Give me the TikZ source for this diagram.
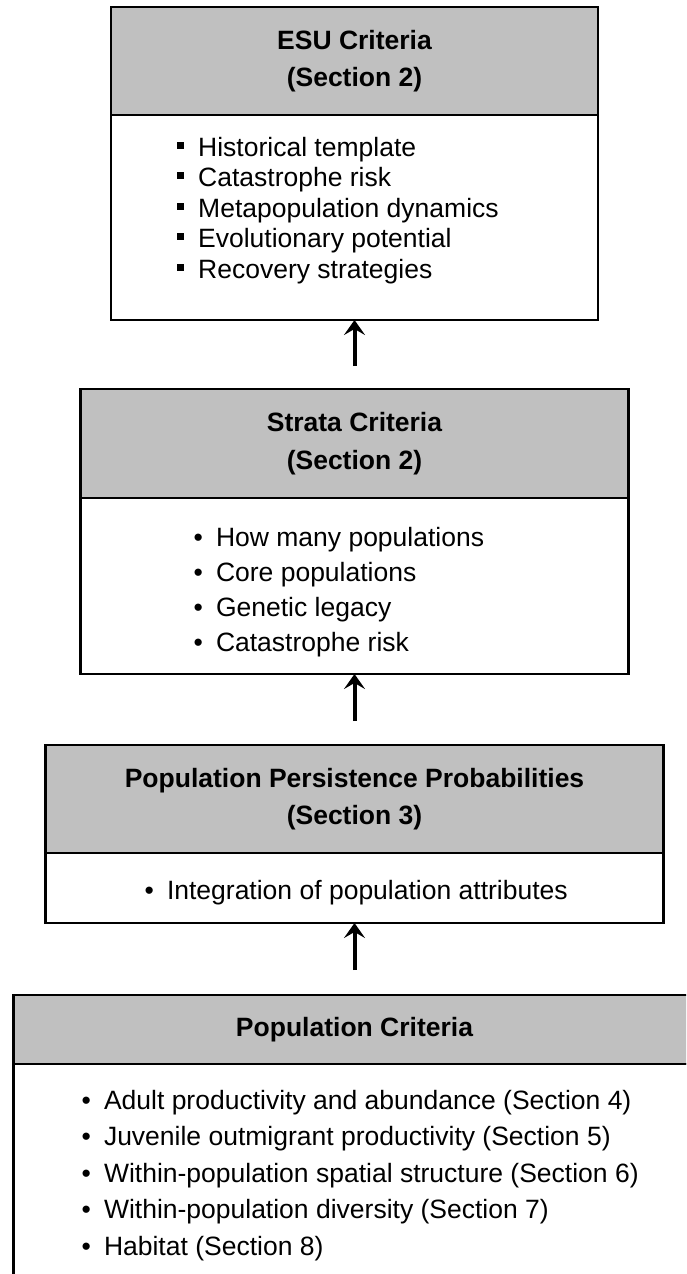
\documentclass[tikz,border=0pt]{standalone}
\usepackage{fontspec}
\setmainfont{Liberation Sans}
\usetikzlibrary{positioning,arrows.meta}
\definecolor{hdrgray}{RGB}{192,192,192}
\newcommand{\sqbul}{\makebox[0.8em][l]{\rule[0.28em]{0.27em}{0.27em}}}
\newcommand{\rndbul}{\makebox[0.85em][l]{\textbullet}}

\begin{document}
\begin{tikzpicture}
[x=1pt,y=1pt,%
  every node/.style={inner sep=0pt,outer sep=0pt},%
  box/.style={draw,line width=2.5pt,rectangle},%
  hdr/.style={box,fill=hdrgray,font=\bfseries,align=center},%
  bdy/.style={box,fill=white},%
  items/.style={align=left,anchor=north west},%
  uparrow/.style={line width=4pt,-{Stealth[length=15pt,width=21pt,inset=6pt]}}]
\useasboundingbox (0,0) rectangle (686,-1274);
\clip (0,0) rectangle (686,-1274);
\fontsize{26.5}{30.5}\selectfont
\node[hdr,anchor=north,minimum width=487pt,minimum height=108pt] (esuhead)
  at (354.5,-7) {ESU Criteria\\[6.5pt](Section 2)};
\node[bdy,below=0pt of esuhead,minimum width=487pt,minimum height=205pt] (esubody) {};
\node[items] (esulist) at ([xshift=66pt,yshift=-22pt]esubody.north west)
  {\sqbul Historical template\\
   \sqbul Catastrophe risk\\
   \sqbul Metapopulation dynamics\\
   \sqbul Evolutionary potential\\
   \sqbul Recovery strategies};
\node[hdr,below=69pt of esubody,minimum width=548pt,minimum height=109pt] (strhead)
  {Strata Criteria\\[7pt](Section 2)};
\node[bdy,below=0pt of strhead,minimum width=548pt,minimum height=176pt] (strbody) {};
\node[items] (strlist) at ([xshift=113pt,yshift=-29pt]strbody.north west)
  {\rndbul How many populations\\[4.5pt]
   \rndbul Core populations\\[4.5pt]
   \rndbul Genetic legacy\\[4.5pt]
   \rndbul Catastrophe risk};
\node[hdr,below=71pt of strbody,minimum width=618pt,minimum height=108pt] (ppphead)
  {Population Persistence Probabilities\\[6.5pt](Section 3)};
\node[bdy,below=0pt of ppphead,minimum width=618pt,minimum height=70pt] (pppbody) {};
\node[items] (ppplist) at ([xshift=99pt,yshift=-27pt]pppbody.north west)
  {\rndbul Integration of population attributes};
\node[hdr,below=72pt of pppbody,minimum width=682pt,minimum height=69pt] (pophead)
  {Population Criteria};
\node[bdy,below=0pt of pophead,minimum width=682pt,minimum height=230pt] (popbody) {};
\node[items] (poplist) at ([xshift=68pt,yshift=-26pt]popbody.north west)
  {\rndbul Adult productivity and abundance (Section 4)\\[6pt]
   \rndbul Juvenile outmigrant productivity (Section 5)\\[6pt]
   \rndbul Within-population spatial structure (Section 6)\\[6pt]
   \rndbul Within-population diversity (Section 7)\\[6pt]
   \rndbul Habitat (Section 8)};
\draw[uparrow,shorten <=23pt] (strhead.north) -- (esubody.south);
\draw[uparrow,shorten <=24pt] (ppphead.north) -- (strbody.south);
\draw[uparrow,shorten <=25pt] (pophead.north) -- (pppbody.south);
\end{tikzpicture}
\end{document}
